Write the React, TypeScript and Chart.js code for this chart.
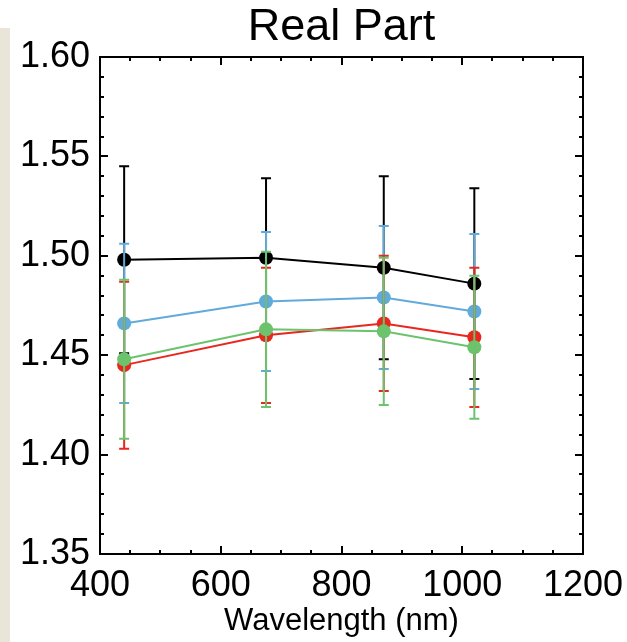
import React, { useEffect, useRef } from 'react';
import { Chart, registerables } from 'chart.js';

Chart.register(...registerables);

const WAVELENGTHS = [440, 675, 870, 1020];
const BLACK_VALUES = [1.498, 1.499, 1.494, 1.486];
const BLACK_ERRORS = [0.047, 0.04, 0.046, 0.048];
const BLUE_VALUES = [1.466, 1.477, 1.479, 1.472];
const BLUE_ERRORS = [0.04, 0.035, 0.036, 0.039];
const RED_VALUES = [1.445, 1.46, 1.466, 1.459];
const RED_ERRORS = [0.042, 0.034, 0.034, 0.035];
const GREEN_VALUES = [1.448, 1.463, 1.462, 1.454];
const GREEN_ERRORS = [0.04, 0.039, 0.037, 0.036];

const X_TICKS = [400, 600, 800, 1000, 1200];
const X_TICK_LABELS = ['400', '600', '800', '1000', '1200'];
const Y_TICKS = [1.35, 1.4, 1.45, 1.5, 1.55, 1.6];
const Y_TICK_LABELS = ['1.35', '1.40', '1.45', '1.50', '1.55', '1.60'];
const X_MINOR_STEP = 50;
const Y_MINOR_STEP = 0.01;

const TITLE = 'Real Part';
const X_TITLE = 'Wavelength (nm)';

const COLORS = {
  black: '#000000',
  blue: '#62aadb',
  red: '#e8271f',
  green: '#6cc36c',
};

const FONT = '"Liberation Sans", Arial, Helvetica, sans-serif';

const titlePlugin = {
  id: 'centeredTitle',
  afterDraw(chart: any) {
    const { ctx, chartArea } = chart;
    ctx.save();
    ctx.fillStyle = '#000';
    ctx.font = `45px ${FONT}`;
    ctx.textAlign = 'center';
    ctx.textBaseline = 'alphabetic';
    ctx.fillText(TITLE, (chartArea.left + chartArea.right) / 2, 40);
    ctx.restore();
  },
};

const frameTicksPlugin = {
  id: 'frameTicks',
  afterDraw(chart: any) {
    const { ctx, chartArea } = chart;
    const xs = chart.scales.x;
    const ys = chart.scales.y;
    const { left, right, top, bottom } = chartArea;
    ctx.save();
    ctx.strokeStyle = '#000';
    ctx.lineWidth = 2;
    ctx.strokeRect(left, top, right - left, bottom - top);
    const major = 8;
    const minor = 4;
    for (let v = xs.min; v <= xs.max + 1e-9; v += X_MINOR_STEP) {
      const isMajor = X_TICKS.some((t) => Math.abs(t - v) < 1e-6);
      const len = isMajor ? major : minor;
      const px = Math.round(xs.getPixelForValue(v));
      ctx.beginPath();
      ctx.moveTo(px, bottom);
      ctx.lineTo(px, bottom - len);
      ctx.moveTo(px, top);
      ctx.lineTo(px, top + len);
      ctx.stroke();
    }
    const n = Math.round((ys.max - ys.min) / Y_MINOR_STEP);
    for (let i = 0; i <= n; i++) {
      const v = ys.min + i * Y_MINOR_STEP;
      const isMajor = Y_TICKS.some((t) => Math.abs(t - v) < 1e-6);
      const len = isMajor ? major : minor;
      const py = Math.round(ys.getPixelForValue(v));
      ctx.beginPath();
      ctx.moveTo(left, py);
      ctx.lineTo(left + len, py);
      ctx.moveTo(right, py);
      ctx.lineTo(right - len, py);
      ctx.stroke();
    }
    ctx.restore();
  },
};

const errorBarsPlugin = {
  id: 'errorBars',
  afterDatasetDraw(chart: any, args: any) {
    const ds = chart.data.datasets[args.index];
    if (!ds.errors) return;
    const { ctx } = chart;
    const xs = chart.scales.x;
    const ys = chart.scales.y;
    ctx.save();
    ctx.strokeStyle = ds.borderColor;
    ctx.lineWidth = 2;
    ds.data.forEach((pt: any, i: number) => {
      const e = ds.errors[i];
      const px = xs.getPixelForValue(pt.x);
      const yTop = ys.getPixelForValue(pt.y + e);
      const yBot = ys.getPixelForValue(pt.y - e);
      ctx.beginPath();
      ctx.moveTo(px, yTop);
      ctx.lineTo(px, yBot);
      ctx.moveTo(px - 5, yTop);
      ctx.lineTo(px + 5, yTop);
      ctx.moveTo(px - 5, yBot);
      ctx.lineTo(px + 5, yBot);
      ctx.stroke();
    });
    ctx.restore();
  },
};

function makeDataset(values: number[], errors: number[], color: string, order: number) {
  return {
    data: WAVELENGTHS.map((x, i) => ({ x, y: values[i] })),
    errors,
    borderColor: color,
    backgroundColor: color,
    pointBackgroundColor: color,
    pointBorderColor: color,
    pointRadius: 7,
    pointBorderWidth: 0,
    borderWidth: 2,
    tension: 0,
    order,
  };
}

export default function App() {
  const canvasRef = useRef<HTMLCanvasElement | null>(null);

  useEffect(() => {
    document.body.style.margin = '0';
    const canvas = canvasRef.current;
    if (!canvas) return;
    const chart = new Chart(canvas, {
      type: 'line',
      data: {
        datasets: [
          makeDataset(BLACK_VALUES, BLACK_ERRORS, COLORS.black, 4),
          makeDataset(BLUE_VALUES, BLUE_ERRORS, COLORS.blue, 3),
          makeDataset(RED_VALUES, RED_ERRORS, COLORS.red, 2),
          makeDataset(GREEN_VALUES, GREEN_ERRORS, COLORS.green, 1),
        ] as any,
      },
      options: {
        animation: false,
        responsive: false,
        maintainAspectRatio: false,
        layout: { padding: { left: 0, right: 44, top: 57, bottom: 0 } },
        plugins: {
          legend: { display: false },
          tooltip: { enabled: false },
          title: { display: false },
        },
        scales: {
          x: {
            type: 'linear',
            min: 400,
            max: 1200,
            grid: { display: false, drawTicks: false },
            border: { display: false },
            afterBuildTicks: (scale: any) => {
              scale.ticks = X_TICKS.map((v) => ({ value: v }));
            },
            afterFit: (scale: any) => {
              scale.height = 88;
              scale.paddingLeft = 0;
              scale.paddingRight = 0;
            },
            ticks: {
              color: '#000',
              padding: 10,
              maxRotation: 0,
              font: { family: FONT, size: 36 },
              callback: (v: any) => {
                const i = X_TICKS.indexOf(Number(v));
                return i >= 0 ? X_TICK_LABELS[i] : '';
              },
            },
            title: {
              display: true,
              text: X_TITLE,
              color: '#000',
              font: { family: FONT, size: 31, lineHeight: 1.2 },
              padding: { top: 0, bottom: 2 },
            },
          },
          y: {
            type: 'linear',
            min: 1.35,
            max: 1.6,
            grid: { display: false, drawTicks: false },
            border: { display: false },
            afterBuildTicks: (scale: any) => {
              scale.ticks = Y_TICKS.map((v) => ({ value: v }));
            },
            afterFit: (scale: any) => {
              scale.width = 100;
              scale.paddingTop = 0;
              scale.paddingBottom = 0;
            },
            ticks: {
              color: '#000',
              padding: 10,
              font: { family: FONT, size: 36 },
              callback: (v: any) => {
                const i = Y_TICKS.findIndex((t) => Math.abs(t - Number(v)) < 1e-6);
                return i >= 0 ? Y_TICK_LABELS[i] : '';
              },
            },
          },
        },
      } as any,
      plugins: [errorBarsPlugin, frameTicksPlugin, titlePlugin],
    });
    return () => chart.destroy();
  }, []);

  return (
    <div style={{ position: 'relative', width: 627, height: 642, background: '#fff' }}>
      <div
        style={{
          position: 'absolute',
          left: 0,
          top: 28,
          width: 10,
          bottom: 0,
          background: '#e9e5d9',
        }}
      />
      <canvas
        ref={canvasRef}
        width={627}
        height={642}
        style={{ position: 'absolute', left: 0, top: 0, width: 627, height: 642 }}
      />
    </div>
  );
}
